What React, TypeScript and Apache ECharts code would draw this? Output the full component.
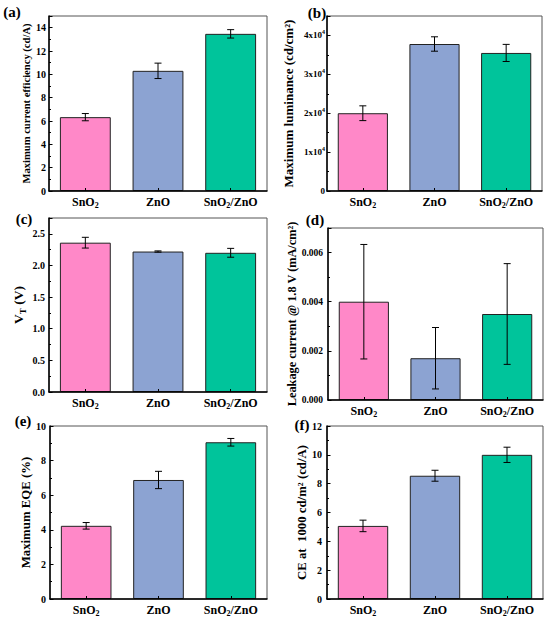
import React, { useEffect, useRef } from "react";
import * as echarts from "echarts";

const FONT = "Liberation Serif";

const categories = ["SnO2", "ZnO", "SnO2/ZnO"];
const barColors = ["#FF88C8", "#8CA3D2", "#00C49B"];

const ceMax = [6.33, 10.3, 13.47];
const ceMaxErr = [0.31, 0.66, 0.36];
const lumMax = [20000, 37800, 35500];
const lumMaxErr = [1900, 1850, 2200];
const vt = [2.36, 2.22, 2.2];
const vtErr = [0.085, 0.01, 0.07];
const leak = [0.004, 0.0017, 0.0035];
const leakErr = [0.00233, 0.00125, 0.00205];
const eqe = [4.23, 6.88, 9.06];
const eqeErr = [0.19, 0.5, 0.22];
const ce1000 = [5.07, 8.55, 10.0];
const ce1000Err = [0.4, 0.38, 0.53];

const panelLetters = ["(a)", "(b)", "(c)", "(d)", "(e)", "(f)"];

const catLabel = (v: string) => {
  if (v === "SnO2") return "{b|SnO}{s|2}";
  if (v === "SnO2/ZnO") return "{b|SnO}{s|2}{b|/ZnO}";
  return "{b|" + v + "}";
};

const rich = {
  b: { fontFamily: FONT, fontWeight: "bold", fontSize: 12, lineHeight: 15, color: "#000" },
  s: { fontFamily: FONT, fontWeight: "bold", fontSize: 8, lineHeight: 8, verticalAlign: "bottom", color: "#000" },
};

export default function App() {
  const ref = useRef<HTMLDivElement>(null);
  useEffect(() => {
    if (!ref.current) return;
    const chart = echarts.init(ref.current, null, { renderer: "svg" });

    const panels = [
      {
        values: ceMax, errs: ceMaxErr, max: 15, interval: 2,
        grid: { left: 49, top: 16, width: 218, height: 175 },
        name: "Maximum current efficiency (cd/A)", nameSize: 10.6, nameGap: 16.5,
        fmt: (v: number) => String(v), labelSize: 10, labelMargin: 3, showMax: false,
        letterPos: [12, 12],
      },
      {
        values: lumMax, errs: lumMaxErr, max: 45000, interval: 10000,
        grid: { left: 327, top: 16, width: 215, height: 175 },
        name: "Maximum luminance (cd/cm²)", nameSize: 13, nameGap: 32,
        fmt: (v: number) => (v === 0 ? "{n|0}" : "{n|" + v / 10000 + "x10}{p|4}"), labelSize: 9, labelMargin: 2, showMax: false,
        letterPos: [317, 13],
      },
      {
        values: vt, errs: vtErr, max: 2.75, interval: 0.5,
        grid: { left: 49, top: 218, width: 218, height: 174 },
        name: "{nn|V}{ns|T}{nn| (V)}", nameSize: 13.5, nameGap: 22,
        fmt: (v: number) => v.toFixed(1), labelSize: 10, labelMargin: 4, showMax: false,
        letterPos: [24, 219],
      },
      {
        values: leak, errs: leakErr, max: 0.007, interval: 0.002,
        grid: { left: 328, top: 228, width: 215, height: 172 },
        name: "Leakage current @ 1.8 V (mA/cm²)", nameSize: 12.3, nameGap: 28,
        fmt: (v: number) => v.toFixed(3), labelSize: 9.5, labelMargin: 5, showMax: false,
        letterPos: [315, 220],
      },
      {
        values: eqe, errs: eqeErr, max: 10, interval: 2,
        grid: { left: 50, top: 426, width: 217, height: 173 },
        name: "Maximum EQE (%)", nameSize: 12.8, nameGap: 13,
        fmt: (v: number) => String(v), labelSize: 10, labelMargin: 4, showMax: true,
        letterPos: [23, 421],
      },
      {
        values: ce1000, errs: ce1000Err, max: 12, interval: 2,
        grid: { left: 327, top: 426, width: 216, height: 173 },
        name: "CE at  1000 cd/m² (cd/A)", nameSize: 12.8, nameGap: 15,
        fmt: (v: number) => String(v), labelSize: 10, labelMargin: 5, showMax: true,
        letterPos: [302, 425],
      },
    ];

    const grid: any[] = [];
    const xAxis: any[] = [];
    const yAxis: any[] = [];
    const series: any[] = [];
    const graphic: any[] = [];

    panels.forEach((p, i) => {
      grid.push({
        ...p.grid,
        show: true,
        borderColor: "#555",
        borderWidth: 1,
        backgroundColor: "transparent",
        containLabel: false,
      });
      xAxis.push({
        type: "category",
        gridIndex: i,
        data: categories,
        axisLine: { show: true, lineStyle: { color: "#000", width: 1.5 } },
        axisTick: { show: true, inside: true, alignWithLabel: true, length: 3, lineStyle: { color: "#000" } },
        axisLabel: { formatter: catLabel, rich, margin: 3, interval: 0 },
        z: 5,
      });
      const labelSize = p.labelSize;
      yAxis.push({
        type: "value",
        gridIndex: i,
        min: 0,
        max: p.max,
        interval: p.interval,
        axisLine: { show: true, lineStyle: { color: "#000", width: 1.5 } },
        axisTick: { show: true, inside: true, length: 3.5, lineStyle: { color: "#000" } },
        minorTick: { show: true, splitNumber: 2, length: 2, lineStyle: { color: "#000" } },
        splitLine: { show: false },
        axisLabel: {
          formatter: p.fmt,
          showMaxLabel: p.showMax,
          margin: p.labelMargin,
          fontFamily: FONT,
          fontWeight: "bold",
          fontSize: labelSize,
          color: "#000",
          rich: {
            n: { fontFamily: FONT, fontWeight: "bold", fontSize: labelSize, lineHeight: 13, color: "#000" },
            p: { fontFamily: FONT, fontWeight: "bold", fontSize: 6, lineHeight: 6, verticalAlign: "top", color: "#000" },
          },
        },
        name: p.name,
        nameLocation: "middle",
        nameGap: p.nameGap,
        nameTextStyle: {
          fontFamily: FONT,
          fontWeight: "bold",
          fontSize: p.nameSize,
          color: "#000",
          rich: {
            nn: { fontFamily: FONT, fontWeight: "bold", fontSize: p.nameSize, lineHeight: 17, color: "#000" },
            ns: { fontFamily: FONT, fontWeight: "bold", fontSize: 9, lineHeight: 9, verticalAlign: "bottom", color: "#000" },
          },
        },
        z: 5,
      });
      series.push({
        type: "bar",
        xAxisIndex: i,
        yAxisIndex: i,
        barCategoryGap: "30%",
        data: p.values.map((v, j) => ({
          value: v,
          itemStyle: { color: barColors[j], borderColor: "#222", borderWidth: 1 },
        })),
      });
      series.push({
        type: "custom",
        xAxisIndex: i,
        yAxisIndex: i,
        z: 10,
        encode: { x: 0, y: 1 },
        data: p.values.map((v, j) => [j, v, p.errs[j]]),
        renderItem: (params: any, api: any) => {
          const x = api.value(0);
          const y = api.value(1);
          const e = api.value(2);
          const top = api.coord([x, y + e]);
          const bot = api.coord([x, y - e]);
          const hw = 3.5;
          const st = { stroke: "#000", lineWidth: 1 };
          return {
            type: "group",
            children: [
              { type: "line", shape: { x1: top[0], y1: top[1], x2: bot[0], y2: bot[1] }, style: st },
              { type: "line", shape: { x1: top[0] - hw, y1: top[1], x2: top[0] + hw, y2: top[1] }, style: st },
              { type: "line", shape: { x1: bot[0] - hw, y1: bot[1], x2: bot[0] + hw, y2: bot[1] }, style: st },
            ],
          };
        },
      });
      graphic.push({
        type: "text",
        x: p.letterPos[0],
        y: p.letterPos[1],
        style: {
          text: panelLetters[i],
          fontFamily: FONT,
          fontWeight: "bold",
          fontSize: 15,
          fill: "#000",
          align: "center",
          verticalAlign: "middle",
        },
      });
    });

    chart.setOption({
      animation: false,
      backgroundColor: "#fff",
      grid,
      xAxis,
      yAxis,
      series,
      graphic,
    });
    return () => chart.dispose();
  }, []);
  return <div ref={ref} style={{ position: "fixed", left: 0, top: 0, width: 550, height: 619 }} />;
}
